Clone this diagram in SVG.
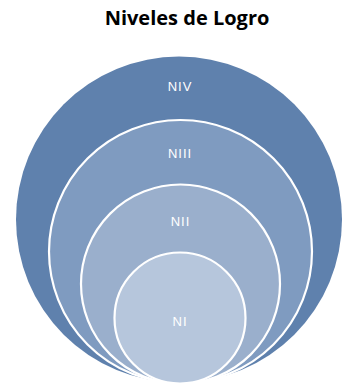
<svg xmlns="http://www.w3.org/2000/svg" width="342" height="385" viewBox="0 0 342 385">
<style>
.ring{stroke:#ffffff;stroke-width:2.2}
.lbl{font-family:"Liberation Sans",Arial,sans-serif;font-size:13px;fill:#ffffff;text-anchor:middle;letter-spacing:1px}
.title{font-family:"Open Sans","Liberation Sans",sans-serif;font-size:20px;font-weight:bold;fill:#000000;text-anchor:middle}
</style>
<rect width="342" height="385" fill="#ffffff"/>
<text class="title" x="187" y="25">Niveles de Logro</text>
<g id="n4">
<circle cx="179" cy="219.5" r="163" fill="#5F81AD"/>
<text class="lbl" x="180" y="90.5">NIV</text>
</g>
<g id="n3">
<circle class="ring" cx="180.5" cy="251.5" r="131.5" fill="#7F9BC0"/>
<text class="lbl" x="180" y="158">NIII</text>
</g>
<g id="n2">
<circle class="ring" cx="180.5" cy="284" r="99.5" fill="#9AAFCC"/>
<text class="lbl" x="180.5" y="225.7">NII</text>
</g>
<g id="n1">
<circle class="ring" cx="180" cy="318" r="65.5" fill="#B6C6DC"/>
<text class="lbl" x="180" y="325.7">NI</text>
</g>
<g id="connectors"/>
</svg>
